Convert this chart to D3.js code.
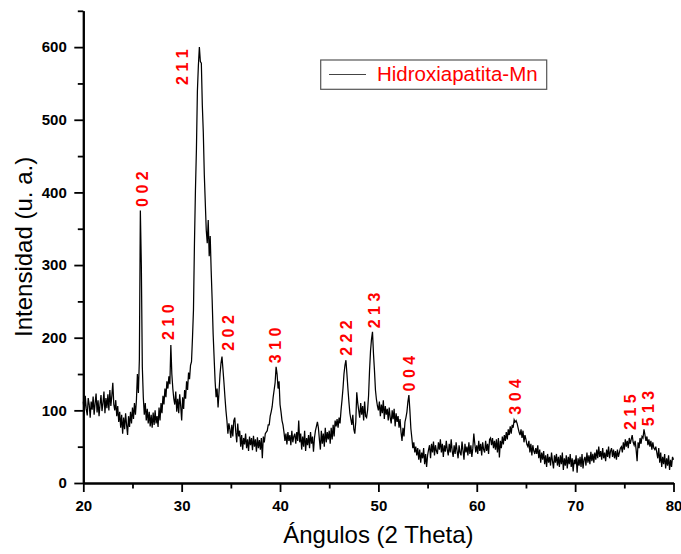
<!DOCTYPE html>
<html>
<head>
<meta charset="utf-8">
<script src="https://cdn.jsdelivr.net/npm/d3@7"></script>
<style>
  html, body { margin: 0; padding: 0; background: #fff; }
  svg { display: block; font-family: "Liberation Sans", Arial, sans-serif; }
</style>
</head>
<body>
<svg id="chart" width="681" height="554"></svg>
<script>
// Diffraction scan: 2θ from 20° to 80°, one reading every 0.1°
const angleStart = 20;
const angleStep = 0.1;
const intensity = [
  // 20°
  112, 96, 120, 102, 93, 117, 108, 90, 112, 101,
  // 21°
  119, 94, 110, 123, 97, 114, 92, 108, 121, 99,
  // 22°
  110, 126, 96, 117, 103, 122, 100, 128, 106, 120,
  // 23°
  138, 108, 100, 114, 92, 106, 84, 98, 76, 94,
  // 24°
  68, 90, 74, 96, 80, 66, 92, 77, 98, 82,
  // 25°
  104, 88, 110, 94, 114, 150, 124, 170, 375, 300,
  // 26°
  160, 118, 94, 110, 86, 102, 82, 98, 78, 94,
  // 27°
  76, 97, 80, 100, 82, 92, 77, 104, 86, 110,
  // 28°
  96, 120, 108, 130, 118, 140, 130, 147, 136, 190,
  // 29°
  150, 130, 116, 108, 126, 98, 116, 96, 122, 106,
  // 30°
  86, 118, 102, 128, 116, 140, 128, 152, 143, 162,
  // 31°
  167, 200, 238, 330, 403, 459, 540, 575, 600, 580,
  // 32°
  578, 520, 482, 425, 386, 348, 330, 362, 312, 340,
  // 33°
  292, 252, 205, 172, 140, 118, 130, 104, 126, 150,
  // 34°
  165, 174, 156, 138, 118, 100, 86, 68, 82, 74,
  // 35°
  62, 80, 64, 86, 90, 70, 56, 82, 64, 72,
  // 36°
  50, 66, 46, 62, 53, 68, 48, 60, 44, 64,
  // 37°
  52, 62, 45, 65, 50, 60, 43, 63, 48, 59,
  // 38°
  46, 62, 34, 64, 56, 68, 70, 72, 80, 80,
  // 39°
  92, 98, 105, 118, 128, 138, 160, 150, 130, 140,
  // 40°
  108, 98, 86, 80, 70, 58, 68, 53, 70, 58,
  // 41°
  66, 52, 72, 56, 64, 68, 54, 70, 58, 86,
  // 42°
  56, 68, 46, 64, 50, 72, 44, 62, 52, 66,
  // 43°
  48, 70, 54, 64, 43, 62, 72, 78, 84, 76,
  // 44°
  60, 46, 72, 54, 68, 50, 76, 56, 70, 60,
  // 45°
  72, 54, 76, 60, 80, 64, 86, 78, 88, 76,
  // 46°
  90, 82, 100, 114, 130, 150, 162, 169, 150, 130,
  // 47°
  112, 96, 88, 80, 94, 74, 68, 84, 125, 110,
  // 48°
  100, 90, 110, 94, 106, 86, 112, 92, 90, 100,
  // 49°
  120, 155, 182, 198, 208, 178, 155, 128, 115, 106,
  // 50°
  100, 112, 92, 108, 96, 114, 88, 106, 94, 102,
  // 51°
  86, 104, 90, 82, 100, 88, 102, 78, 96, 84,
  // 52°
  92, 76, 88, 70, 58, 76, 64, 84, 90, 98,
  // 53°
  112, 121, 100, 75, 62, 48, 56, 42, 50, 38,
  // 54°
  48, 32, 46, 28, 42, 34, 48, 26, 40, 22,
  // 55°
  38, 46, 52, 34, 54, 42, 57, 38, 52, 44,
  // 56°
  40, 56, 46, 60, 42, 54, 36, 52, 43, 58,
  // 57°
  46, 38, 54, 42, 60, 44, 36, 52, 40, 56,
  // 58°
  44, 34, 52, 42, 38, 57, 45, 32, 54, 42,
  // 59°
  50, 38, 56, 40, 52, 36, 48, 68, 54, 42,
  // 60°
  52, 40, 58, 44, 54, 38, 56, 46, 42, 58,
  // 61°
  44, 54, 40, 60, 62, 52, 62, 48, 58, 46,
  // 62°
  60, 42, 62, 35, 58, 48, 64, 53, 66, 58,
  // 63°
  70, 60, 74, 66, 78, 68, 80, 76, 87, 84,
  // 64°
  86, 82, 76, 70, 66, 74, 62, 72, 56, 66,
  // 65°
  60, 53, 50, 58, 42, 54, 38, 52, 44, 40,
  // 66°
  48, 40, 52, 34, 46, 28, 42, 32, 44, 26,
  // 67°
  38, 22, 40, 28, 36, 24, 42, 30, 20, 38,
  // 68°
  28, 40, 24, 36, 22, 38, 26, 42, 18, 34,
  // 69°
  24, 38, 20, 36, 26, 40, 22, 34, 16, 32,
  // 70°
  26, 38, 14, 34, 24, 36, 22, 40, 20, 32,
  // 71°
  36, 24, 42, 28, 38, 26, 43, 30, 40, 28,
  // 72°
  42, 32, 46, 34, 50, 36, 44, 32, 48, 34,
  // 73°
  42, 30, 46, 36, 50, 34, 44, 48, 36, 46,
  // 74°
  34, 44, 32, 46, 36, 42, 48, 50, 42, 56,
  // 75°
  46, 60, 50, 58, 48, 62, 54, 60, 66, 56,
  // 76°
  52, 58, 46, 30, 56, 48, 62, 54, 64, 62,
  // 77°
  74, 66, 58, 64, 52, 60, 50, 58, 46, 56,
  // 78°
  48, 46, 50, 42, 34, 48, 28, 42, 22, 36,
  // 79°
  26, 40, 20, 34, 24, 38, 18, 32, 22, 36,
  // 80°
  32
];

// Miller indices of the indexed reflections, with the angle / intensity where each tag sits
const hklLabels = ["0 0 2", "2 1 1", "2 1 0", "2 0 2", "3 1 0", "2 2 2", "2 1 3", "0 0 4", "3 0 4", "2 1 5", "5 1 3"];
const hklAngle  = [25.97, 30.04, 28.65, 34.72, 39.55, 46.71, 49.56, 53.12, 63.9, 75.59, 77.42];
const hklBase   = [380, 548, 197, 182, 165, 175, 213, 126, 94, 73, 78];

const xTicks = [20, 30, 40, 50, 60, 70, 80];
const xMinor = [25, 35, 45, 55, 65, 75];
const yTicks = [0, 100, 200, 300, 400, 500, 600];
const yMinor = [50, 150, 250, 350, 450, 550, 650];

const seriesName = "Hidroxiapatita-Mn";
const xTitle = "Ángulos (2 Theta)";
const yTitle = "Intensidad (u. a.)";

const scan = intensity.map((v, i) => ({ angle: angleStart + i * angleStep, value: v }));

const svg = d3.select("#chart");
const plotLeft = 83.3, plotRight = 673.5, plotTop = 10.8, plotBottom = 483;

const x = d3.scaleLinear().domain([20, 80]).range([plotLeft, plotRight]);
const y = d3.scaleLinear().domain([0, 650]).range([plotBottom, plotTop]);

// Pattern trace
const line = d3.line().x(d => x(d.angle)).y(d => y(d.value));
svg.append("path")
  .datum(scan)
  .attr("fill", "none")
  .attr("stroke", "#000")
  .attr("stroke-width", 1.25)
  .attr("stroke-linejoin", "miter")
  .attr("d", line);

// Axes
function styleAxis(g) {
  g.select(".domain").attr("stroke", "#000").attr("stroke-width", 2);
  g.selectAll(".tick line").attr("stroke", "#000").attr("stroke-width", 1.8);
  g.selectAll(".tick text")
    .attr("fill", "#000")
    .style("font-size", "15px")
    .style("font-weight", "bold")
    .style("font-family", "'Liberation Sans', Arial, sans-serif");
}

svg.append("g")
  .attr("transform", `translate(0,${plotBottom})`)
  .call(d3.axisBottom(x).tickValues(xMinor).tickSize(5.5).tickSizeOuter(0).tickFormat(""))
  .call(styleAxis);
svg.append("g")
  .attr("transform", `translate(0,${plotBottom})`)
  .call(d3.axisBottom(x).tickValues(xTicks).tickSize(9).tickPadding(8).tickSizeOuter(0).tickFormat(d3.format("d")))
  .call(styleAxis);

svg.append("g")
  .attr("transform", `translate(${plotLeft},0)`)
  .call(d3.axisLeft(y).tickValues(yMinor).tickSize(5.5).tickSizeOuter(0).tickFormat(""))
  .call(styleAxis);
svg.append("g")
  .attr("transform", `translate(${plotLeft},0)`)
  .call(d3.axisLeft(y).tickValues(yTicks).tickSize(9).tickPadding(7.5).tickSizeOuter(0).tickFormat(d3.format("d")))
  .call(styleAxis);

// Axis titles
svg.append("text")
  .attr("x", (plotLeft + plotRight) / 2)
  .attr("y", 543)
  .attr("text-anchor", "middle")
  .style("font-size", "24px")
  .attr("fill", "#000")
  .text(xTitle);

svg.append("text")
  .attr("transform", `translate(32,${(plotTop + plotBottom) / 2}) rotate(-90)`)
  .attr("text-anchor", "middle")
  .style("font-size", "24px")
  .attr("fill", "#000")
  .text(yTitle);

// Reflection tags
svg.append("g").selectAll("text")
  .data(hklLabels)
  .join("text")
  .attr("transform", (d, i) => `translate(${x(hklAngle[i]) + 5.8},${y(hklBase[i])}) rotate(-90)`)
  .attr("text-anchor", "start")
  .attr("fill", "#ff0000")
  .style("font-size", "16px")
  .style("font-weight", "bold")
  .text(d => d);

// Legend
const legend = svg.append("g");
legend.append("rect")
  .attr("x", 320.7).attr("y", 60)
  .attr("width", 226).attr("height", 29.3)
  .attr("fill", "#fff")
  .attr("stroke", "#555")
  .attr("stroke-width", 1.2);
legend.append("line")
  .attr("x1", 329).attr("x2", 366)
  .attr("y1", 74.5).attr("y2", 74.5)
  .attr("stroke", "#444")
  .attr("stroke-width", 1.2);
legend.append("text")
  .attr("x", 377).attr("y", 81)
  .attr("fill", "#ff0000")
  .style("font-size", "20.5px")
  .text(seriesName);
</script>
</body>
</html>
